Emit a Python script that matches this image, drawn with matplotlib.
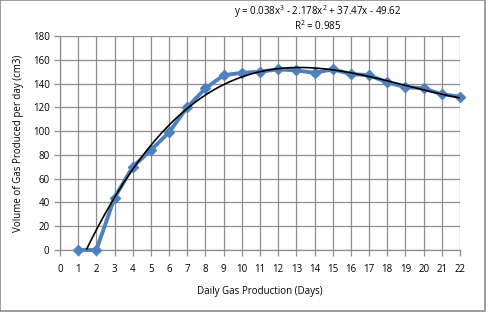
import matplotlib
matplotlib.use("Agg")
import matplotlib.pyplot as plt
import numpy as np
from matplotlib.patches import Rectangle

days = [1, 2, 3, 4, 5, 6, 7, 8, 9, 10, 11, 12, 13, 14, 15, 16, 17, 18, 19, 20, 21, 22]
volume = [0, 0, 44, 70, 84, 99, 120, 136, 147, 149, 150, 152, 151, 149, 152, 148, 147, 141, 137, 136, 131, 129]
eq_text = "y = 0.038x$^3$ - 2.178x$^2$ + 37.47x - 49.62"
r2_text = "R$^2$ = 0.985"
xlabel = "Daily Gas Production (Days)"
ylabel = "Volume of Gas Produced per day (cm3)"

plt.rcParams['font.family'] = ['Open Sans', 'DejaVu Sans']
plt.rcParams['mathtext.default'] = 'regular'

W, H = 489, 312
fig = plt.figure(figsize=(W/100, H/100), dpi=100)
ax = fig.add_axes([60/W, 1-250/H, 400/W, 214/H])

ax.set_xlim(0, 22)
ax.set_ylim(0, 180)
ax.set_xticks(range(0, 23))
ax.set_yticks(range(0, 181, 20))
ax.grid(True, color='#8c8c8c', linewidth=0.9)
ax.set_axisbelow(True)
for s in ['top', 'right']:
    ax.spines[s].set_visible(False)
for s in ['left', 'bottom']:
    ax.spines[s].set_color('#8c8c8c')
    ax.spines[s].set_linewidth(0.9)
ax.tick_params(axis='both', colors='#8c8c8c', labelcolor='black', labelsize=7, length=4, width=0.9)
ax.tick_params(axis='x', pad=6)

ax.plot(days, volume, color='#4F81BD', linewidth=2.8, marker='D', markersize=5.5,
        markerfacecolor='#4F81BD', markeredgecolor='#4F81BD', zorder=3, clip_on=False)

coef = np.polyfit(days, volume, 3)
xs = np.linspace(1, 22, 400)
ys = np.polyval(coef, xs)
mask = ys >= 0
ax.plot(xs[mask], ys[mask], color='black', linewidth=1.2, zorder=4)

ax.set_xlabel(xlabel, fontsize=7, labelpad=8)
ax.set_ylabel(ylabel, fontsize=7, labelpad=6)

fig.text(318/W, 1-12/H, eq_text, fontsize=7, ha='center', va='center')
fig.text(318/W, 1-26/H, r2_text, fontsize=7, ha='center', va='center')

fig.patches.append(Rectangle((0, 1/H), 485/W, 1-1/H, transform=fig.transFigure,
                             fill=False, edgecolor='#8c8c8c', linewidth=1.2))

fig.savefig("out.png", dpi=100)
